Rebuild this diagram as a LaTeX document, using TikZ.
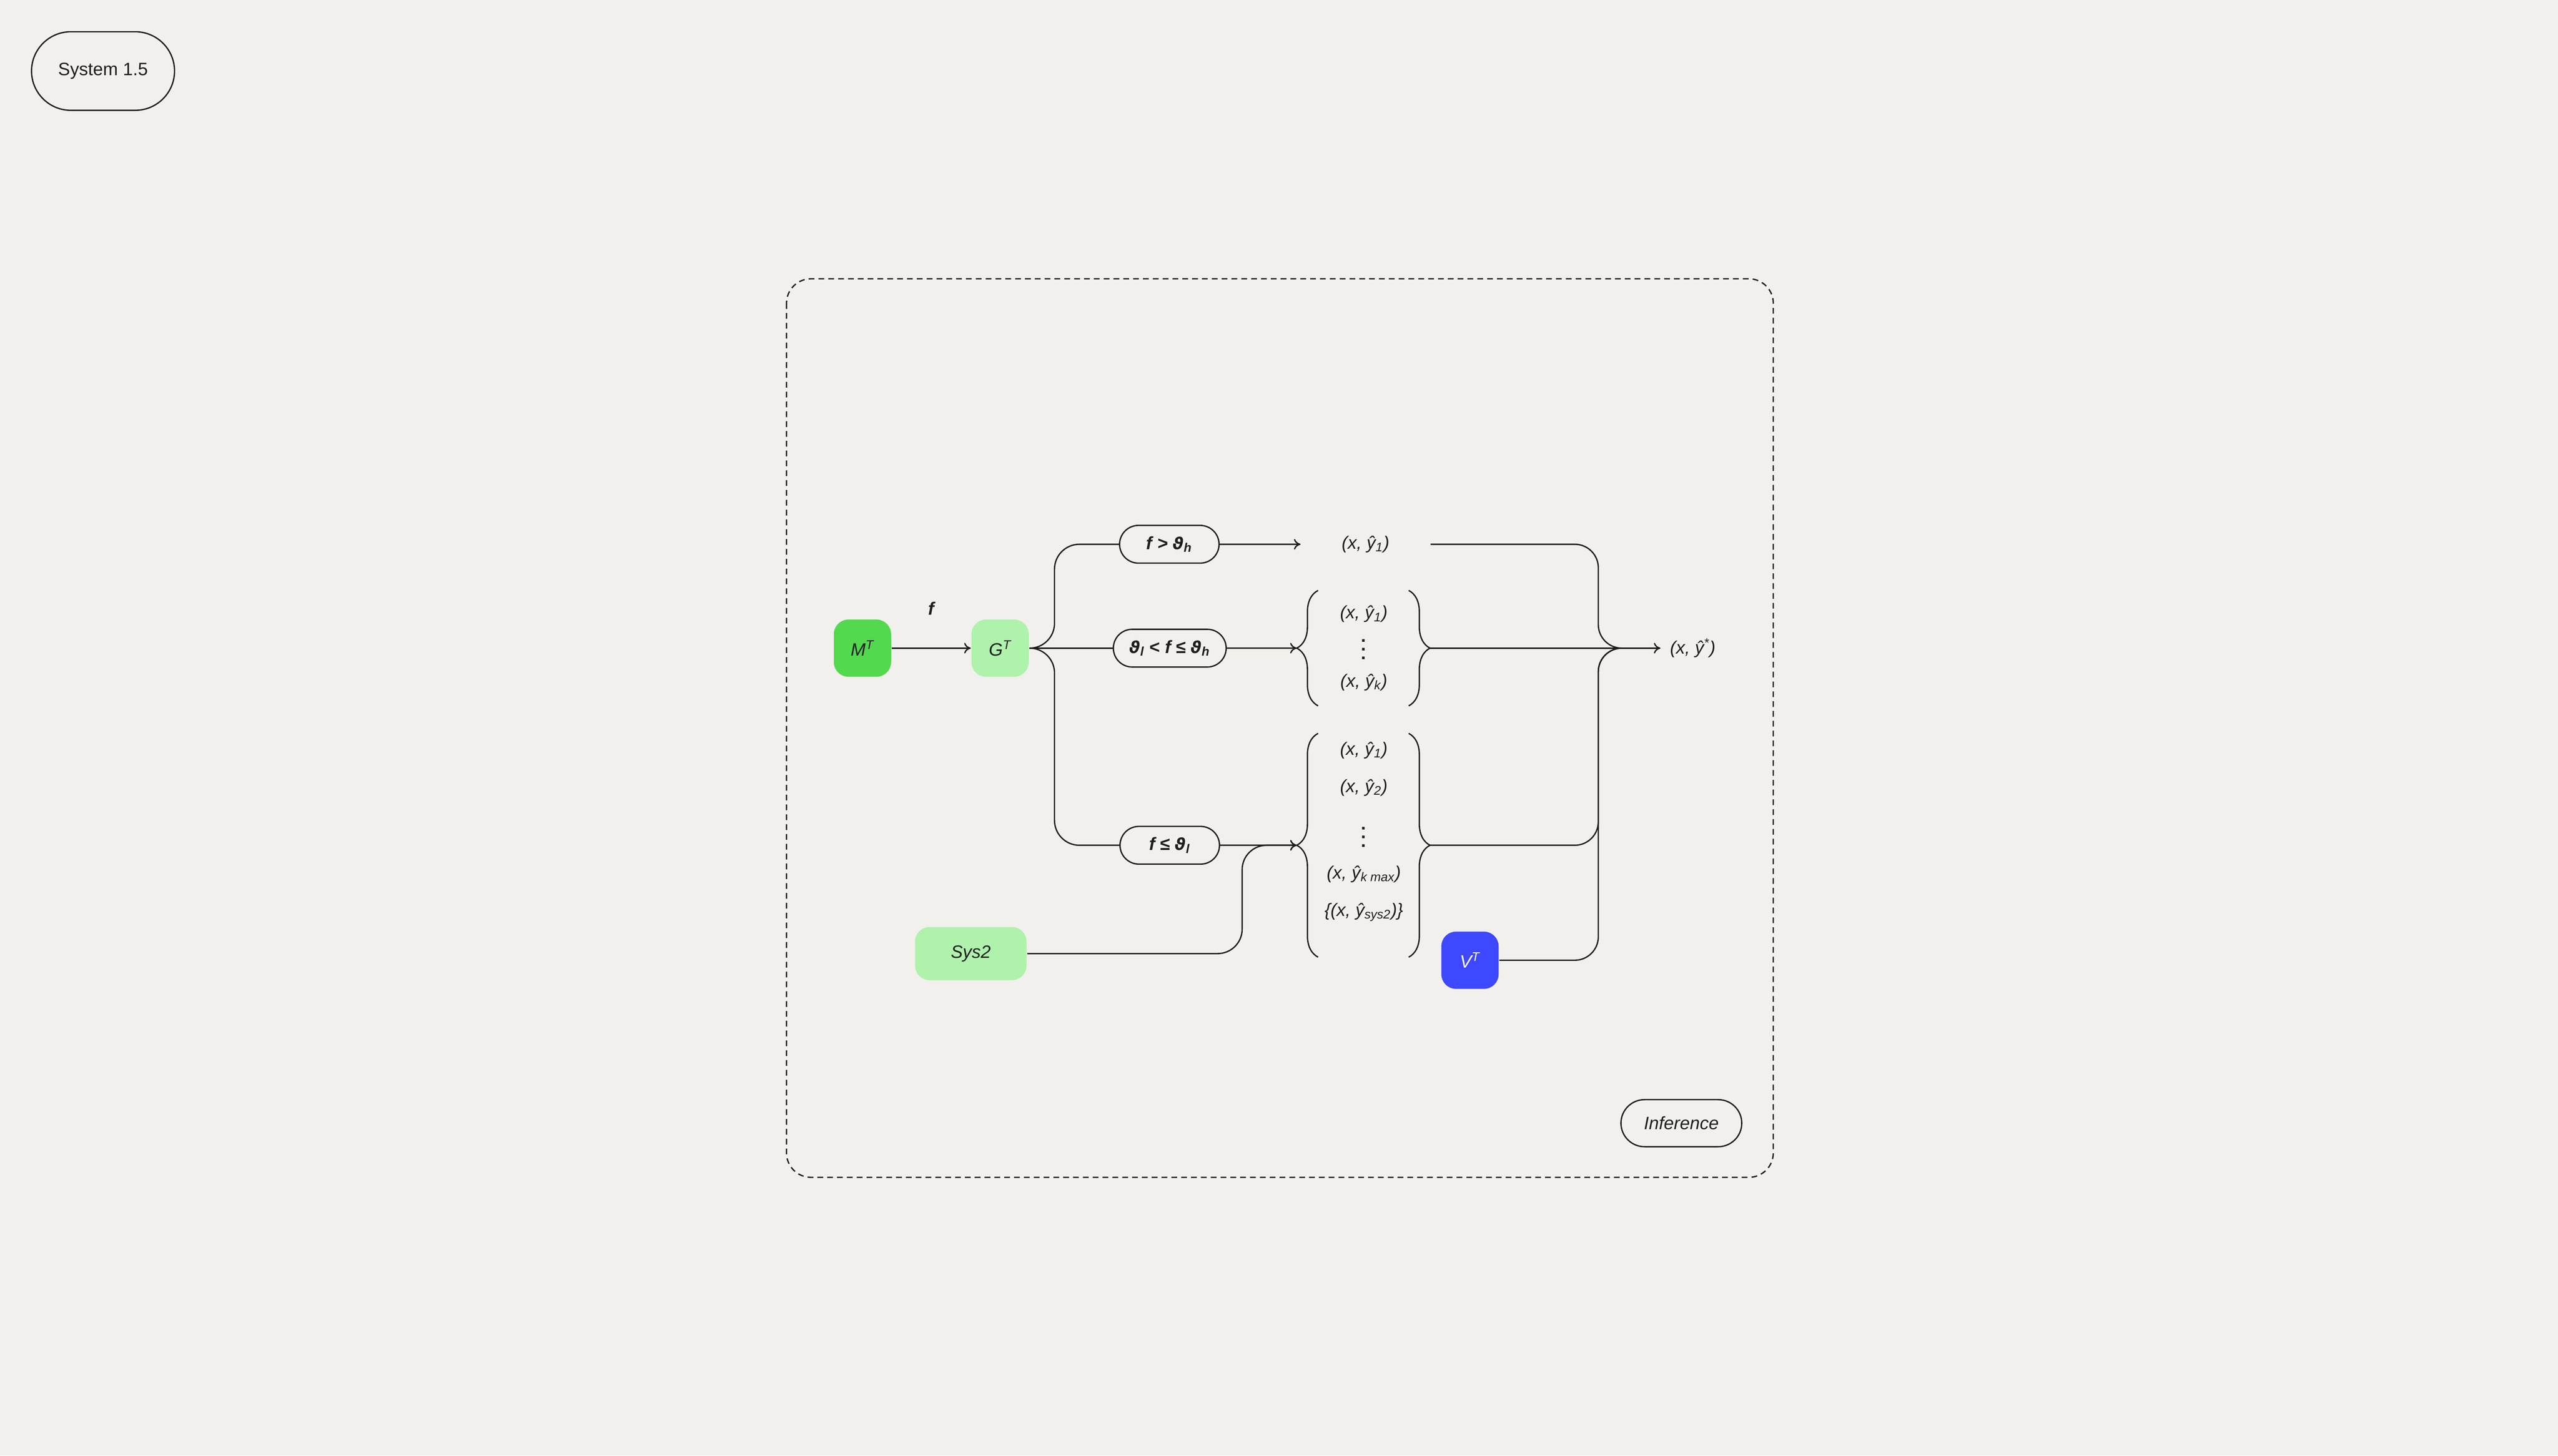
\documentclass[tikz,border=0pt]{standalone}
\usepackage{fontspec}
\setmainfont{Liberation Sans}
\newfontfamily\greekfont{DejaVu Sans}[Scale=0.92]
\usetikzlibrary{shapes,arrows,arrows.meta,positioning,decorations.pathreplacing}

\definecolor{paper}{HTML}{F1F0EC}
\definecolor{ink}{HTML}{1E1E1E}
\definecolor{mgreen}{HTML}{52D94E}
\definecolor{lgreen}{HTML}{AEF2AB}
\definecolor{vblue}{HTML}{3D48FF}

\newcommand{\sz}{\fontsize{11.5}{14}\selectfont}
\newcommand{\vth}{{\greekfont ϑ}}
\newcommand{\threedots}{\vbox{\baselineskip=5.6pt\lineskiplimit=0pt\hbox{.}\hbox{.}\hbox{.}}}

\begin{document}
\begin{tikzpicture}[
    color=ink, line width=0.85pt, >={To[length=0.15cm, width=0.24cm]},
    block/.style={rectangle, rounded corners=0.33cm, minimum width=1.29cm, minimum height=1.29cm, inner sep=0pt, font=\sz\itshape},
    cond/.style={rounded rectangle, draw, minimum height=0.85cm, inner sep=0pt, font=\sz\bfseries\itshape},
    tag/.style={rounded rectangle, draw, inner sep=0pt, font=\sz},
    pair/.style={inner sep=0pt, font=\sz\itshape},
    curly/.style={decorate, decoration={brace, amplitude=0.48cm}}
]
    % Background and frame
    \fill[paper] (0,0) rectangle (57.6,-32.79);
    \node[tag, minimum width=3.22cm, minimum height=1.77cm] (title) at (2.32,-1.60) {System 1.5};
    \draw[dash pattern=on 3.7pt off 2.6pt, rounded corners=0.55cm] (17.71,-6.28) rectangle (39.93,-26.52);
    \node[tag, minimum width=2.72cm, minimum height=1.06cm, font=\sz\itshape] (inf) at (37.86,-25.30) {Inference};

    % Models
    \node[block, fill=mgreen] (mt) at (19.42,-14.60) {M\textsuperscript{T}};
    \node[block, fill=lgreen, right=1.78cm of mt] (gt) {G\textsuperscript{T}};
    \node[block, fill=lgreen, minimum width=2.51cm, minimum height=1.20cm] (sys2) at (21.86,-21.48) {Sys2};
    \node[block, fill=vblue, text=white] (vt) at (33.10,-21.63) {V\textsuperscript{T}};

    % Conditions
    \node[cond, minimum width=2.24cm] (hi) at (26.33,-12.26) {f > \vth\textsubscript{h}};
    \node[cond, minimum width=2.54cm] (mid) at (26.34,-14.60) {\vth\textsubscript{l} < f ≤ \vth\textsubscript{h}};
    \node[cond, minimum width=2.24cm] (lo) at (26.34,-19.04) {f ≤ \vth\textsubscript{l}};

    % Candidate outputs
    \node[pair, minimum width=2.9cm] (one) at (30.75,-12.26) {(x, ŷ\textsubscript{1})};
    \node[pair] (m1) at (30.71,-13.83) {(x, ŷ\textsubscript{1})};
    \node[pair, font=\sz\bfseries] (mdots) at (30.71,-14.63) {\threedots};
    \node[pair] (mk) at (30.71,-15.37) {(x, ŷ\textsubscript{k})};
    \node[pair] (l1) at (30.71,-16.90) {(x, ŷ\textsubscript{1})};
    \node[pair] (l2) at (30.71,-17.74) {(x, ŷ\textsubscript{2})};
    \node[pair, font=\sz\bfseries] (ldots) at (30.71,-18.86) {\threedots};
    \node[pair] (lk) at (30.71,-19.69) {(x, ŷ\textsubscript{k max})};
    \node[pair] (ls) at (30.71,-20.55) {\{(x, ŷ\textsubscript{sys2})\}};

    % Braces
    \coordinate (mL) at (29.20,-14.60);
    \coordinate (mR) at (32.20,-14.60);
    \coordinate (lL) at (29.20,-19.04);
    \coordinate (lR) at (32.20,-19.04);
    \draw[curly] (29.68,-15.90) -- (29.68,-13.30);
    \draw[curly] (31.72,-13.30) -- (31.72,-15.90);
    \draw[curly] (29.68,-21.56) -- (29.68,-16.52);
    \draw[curly] (31.72,-16.52) -- (31.72,-21.56);

    % Merge point and result
    \coordinate (join) at (35.99,-14.60);
    \coordinate (mg) at (36.52,-14.60);
    \node[pair, inner xsep=0.2cm, right=0.87cm of mg] (best) {(x, ŷ\textsuperscript{*})};

    % Connectors
    \draw[->] (mt) -- node[midway, above=0.62cm, font=\sz\bfseries\itshape] (flab) {f} (gt);
    \draw[rounded corners=0.56cm] (gt.east) -- ++(0.565,0) |- (hi.west);
    \draw (gt.east) -- (mid.west);
    \draw[rounded corners=0.56cm] (gt.east) -- ++(0.565,0) |- (lo.west);
    \draw[->] (hi) -- (one);
    \draw[->] (mid) -- (mL);
    \draw[->] (lo) -- (lL);
    \draw[->, rounded corners=0.55cm] (sys2.east) -| (27.97,-19.04) -- (lL);
    \draw[rounded corners=0.53cm] (one.east) -| (join) -- (mg);
    \draw[rounded corners=0.53cm] (lR) -| (join) -- (mg);
    \draw[rounded corners=0.53cm] (vt.east) -| (join) -- (mg);
    \draw[->] (mR) -- (best);
\end{tikzpicture}
\end{document}
